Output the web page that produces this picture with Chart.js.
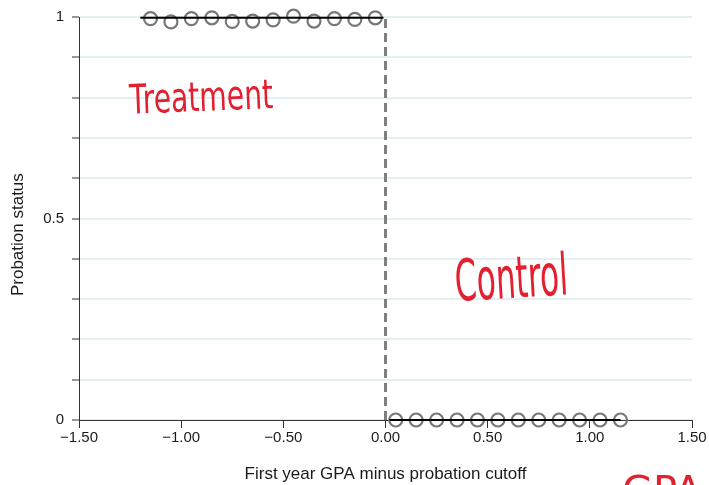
<!DOCTYPE html>
<html>
<head>
<meta charset="utf-8">
<script src="https://cdn.jsdelivr.net/npm/chart.js@4"></script>
<style>
  html, body { margin: 0; padding: 0; background: #fff; }
  #wrap { width: 709px; height: 485px; }
</style>
</head>
<body>
<div id="wrap"><canvas id="grafico"></canvas></div>
<script>
// bins of first-year GPA minus cutoff, and the probation status in each
const treatX = [-1.15, -1.05, -0.95, -0.85, -0.75, -0.65, -0.55, -0.45, -0.35, -0.25, -0.15, -0.05];
const treatY = [0.996, 0.988, 0.996, 0.998, 0.989, 0.990, 0.993, 1.002, 0.990, 0.996, 0.994, 0.998];
const ctrlX = [0.05, 0.15, 0.25, 0.35, 0.45, 0.55, 0.65, 0.75, 0.85, 0.95, 1.05, 1.15];
const ctrlY = [0, 0, 0, 0, 0, 0, 0, 0, 0, 0, 0, 0];
// fitted lines on each side
const fitTreatX = [-1.2, -0.01];
const fitTreatY = [0.998, 0.998];
const fitCtrlX = [0.02, 1.15];
const fitCtrlY = [0, 0];
// cutoff line
const cutX = [0, 0];
const cutY = [0, 1];
const xTicks = [-1.5, -1.0, -0.5, 0, 0.5, 1.0, 1.5];
const yLabels = [0, 0.5, 1];

const pts = (xs, ys) => xs.map((x, i) => ({ x: x, y: ys[i] }));

const notes = {
  id: 'notes',
  afterDatasetsDraw(chart) {
    const c = chart.ctx;
    const sx = chart.scales.x, sy = chart.scales.y;
    c.save();
    // y axis title, sits a bit below the middle of the axis
    c.fillStyle = '#1a1a1a';
    c.font = '17px "Liberation Sans"';
    c.textAlign = 'center';
    c.textBaseline = 'middle';
    c.save();
    c.translate(18, sy.getPixelForValue(0.46));
    c.rotate(-Math.PI / 2);
    c.fillText('Probation status', 0, 0);
    c.restore();

    c.fillStyle = '#e3202f';
    c.textAlign = 'left';
    c.textBaseline = 'alphabetic';
    c.font = '34px "DejaVu Sans"';
    c.save();
    c.translate(sx.getPixelForValue(-1.25), sy.getPixelForValue(0.76));
    c.rotate(-0.04);
    c.scale(0.83, 1.2);
    c.fillText('Treatment', 0, 0);
    c.restore();
    c.save();
    c.translate(sx.getPixelForValue(0.345), sy.getPixelForValue(0.295));
    c.rotate(-0.06);
    c.scale(0.92, 1.7);
    c.fillText('Control', 0, 0);
    c.restore();
    c.font = '40px "DejaVu Sans"';
    c.fillText('GPA', 622, 505);
    c.restore();
  }
};

new Chart(document.getElementById('grafico').getContext('2d'), {
  type: 'scatter',
  data: {
    datasets: [
      {
        label: 'cutoff',
        data: pts(cutX, cutY),
        showLine: true,
        borderColor: '#7f7f7f',
        borderWidth: 3,
        borderDash: [9, 5],
        pointRadius: 0
      },
      {
        label: 'fit treatment',
        data: pts(fitTreatX, fitTreatY),
        showLine: true,
        borderColor: '#000',
        borderWidth: 2,
        pointRadius: 0
      },
      {
        label: 'fit control',
        data: pts(fitCtrlX, fitCtrlY),
        showLine: true,
        borderColor: '#000',
        borderWidth: 2,
        pointRadius: 0
      },
      {
        label: 'treatment',
        data: pts(treatX, treatY),
        pointRadius: 6.5,
        pointBorderWidth: 2.2,
        pointBorderColor: '#777',
        pointBackgroundColor: 'rgba(0,0,0,0)'
      },
      {
        label: 'control',
        data: pts(ctrlX, ctrlY),
        pointRadius: 6.5,
        pointBorderWidth: 2.2,
        pointBorderColor: '#777',
        pointBackgroundColor: 'rgba(0,0,0,0)'
      }
    ]
  },
  options: {
    responsive: true,
    maintainAspectRatio: false,
    animation: false,
    clip: false,
    layout: { padding: { top: 15, right: 17, left: 0, bottom: 0 } },
    plugins: { legend: { display: false }, tooltip: { enabled: false } },
    scales: {
      x: {
        type: 'linear',
        min: -1.5,
        max: 1.5,
        afterFit: s => { s.height = 65; },
        afterBuildTicks: s => { s.ticks = xTicks.map(v => ({ value: v })); },
        border: { color: '#333', width: 1 },
        grid: { drawOnChartArea: false, tickLength: 8, tickColor: '#333' },
        ticks: {
          color: '#1a1a1a',
          font: { family: '"Liberation Sans"', size: 15 },
          padding: 1,
          maxRotation: 0,
          callback: v => v.toFixed(2).replace('-', '\u2212')
        },
        title: {
          display: true,
          text: 'First year GPA minus probation cutoff',
          color: '#1a1a1a',
          font: { family: '"Liberation Sans"', size: 17 },
          padding: { top: 4, bottom: 0 }
        }
      },
      y: {
        type: 'linear',
        min: 0,
        max: 1,
        afterFit: s => { s.width = 79; },
        ticks: {
          stepSize: 0.1,
          color: '#1a1a1a',
          font: { family: '"Liberation Sans"', size: 15 },
          padding: 8,
          callback: v => {
            const r = Math.round(v * 10) / 10;
            return yLabels.includes(r) ? String(r) : '';
          }
        },
        border: { color: '#333', width: 1 },
        grid: { color: '#e3f0f2', lineWidth: 2, tickLength: 7, tickColor: '#333', tickWidth: 1 },
        title: { display: false }
      }
    }
  },
  plugins: [notes]
});
</script>
</body>
</html>
